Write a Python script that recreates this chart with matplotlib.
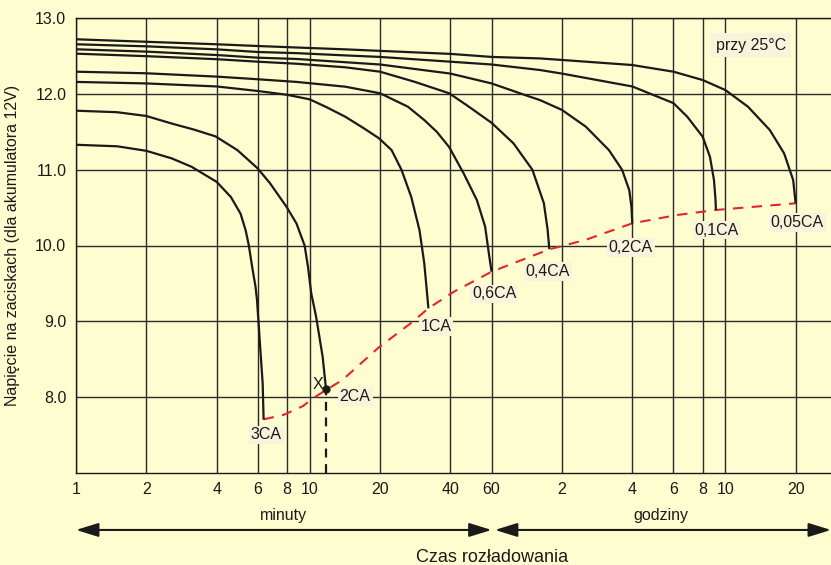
import matplotlib
matplotlib.use('Agg')
import matplotlib.pyplot as plt
from matplotlib.ticker import NullLocator

plt.rcParams['font.family'] = ['Liberation Sans', 'DejaVu Sans']

# czas rozladowania w minutach, napiecie w V
t_3ca = [1, 1.5, 2, 2.57, 3.12, 4.0, 4.6, 5.06, 5.32, 5.49, 5.67, 5.86, 5.95, 6.15, 6.29, 6.35]
v_3ca = [11.33, 11.31, 11.25, 11.15, 11.04, 10.84, 10.64, 10.42, 10.20, 10.0, 9.72, 9.46, 9.28, 8.62, 8.18, 7.70]

t_2ca = [1, 1.5, 2, 2.57, 3.2, 3.96, 4.9, 5.98, 6.77, 7.96, 8.78, 9.51, 9.83, 10.15, 10.65, 11.36, 11.74]
v_2ca = [11.78, 11.76, 11.71, 11.61, 11.53, 11.44, 11.26, 11.02, 10.82, 10.51, 10.29, 10.0, 9.72, 9.37, 9.06, 8.53, 8.105]

t_1ca = [1, 2, 4, 6, 8, 10, 11.74, 14.2, 17, 19.8, 22.4, 24.7, 27.2, 29.5, 30.9, 31.6, 32.2]
v_1ca = [12.16, 12.14, 12.10, 12.04, 11.99, 11.93, 11.83, 11.70, 11.55, 11.415, 11.26, 11.0, 10.64, 10.20, 9.77, 9.45, 9.17]

t_06ca = [1, 2, 4, 6, 8.78, 14.2, 20, 26.3, 30.9, 35, 39.5, 45.6, 51.9, 56.3, 58.7, 60]
v_06ca = [12.295, 12.274, 12.23, 12.195, 12.16, 12.097, 12.01, 11.833, 11.657, 11.50, 11.30, 10.95, 10.60, 10.25, 9.85, 9.654]

t_04ca = [1, 2, 4, 6, 8.78, 14.2, 20, 28, 39.5, 47.1, 60, 74.4, 89.7, 100.4, 104.2, 106]
v_04ca = [12.533, 12.50, 12.46, 12.427, 12.40, 12.353, 12.295, 12.163, 12.01, 11.85, 11.62, 11.35, 11.0, 10.56, 10.21, 9.95]

t_02ca = [1, 2, 4, 6, 8.78, 14.2, 20, 40, 60, 86.5, 96.7, 120, 151.7, 190.6, 217, 233, 238, 240]
v_02ca = [12.591, 12.56, 12.515, 12.48, 12.463, 12.42, 12.39, 12.27, 12.14, 11.97, 11.92, 11.79, 11.57, 11.26, 11.0, 10.73, 10.51, 10.29]

t_01ca = [1, 2, 4, 6, 8.78, 14.2, 20, 40, 60, 96.7, 120, 240, 360, 412.6, 480, 516, 536.7, 545, 547]
v_01ca = [12.657, 12.63, 12.59, 12.555, 12.54, 12.51, 12.49, 12.427, 12.39, 12.317, 12.27, 12.10, 11.88, 11.70, 11.437, 11.17, 10.865, 10.60, 10.47]

t_005ca = [1, 2, 4, 6, 14.2, 20, 40, 60, 96.7, 120, 240, 360, 480, 600, 750, 930, 1071, 1171, 1200]
v_005ca = [12.723, 12.69, 12.657, 12.634, 12.59, 12.57, 12.53, 12.49, 12.47, 12.45, 12.383, 12.295, 12.185, 12.053, 11.833, 11.525, 11.217, 10.865, 10.557]

# koncowe napiecie rozladowania (czerwona linia)
t_end = [6.35, 7.71, 9.36, 10.3, 11.74, 13.8, 19.6, 27.5, 32.2, 41.4, 60, 106, 151, 240, 374, 547, 1200]
v_end = [7.705, 7.762, 7.880, 7.98, 8.092, 8.224, 8.646, 8.990, 9.171, 9.390, 9.654, 9.950, 10.073, 10.293, 10.403, 10.469, 10.557]

curve_t = [t_3ca, t_2ca, t_1ca, t_06ca, t_04ca, t_02ca, t_01ca, t_005ca]
curve_v = [v_3ca, v_2ca, v_1ca, v_06ca, v_04ca, v_02ca, v_01ca, v_005ca]
curve_labels = ['3CA', '2CA', '1CA', '0,6CA', '0,4CA', '0,2CA', '0,1CA', '0,05CA']
label_offsets = [(2, -11), (21, -5.5), (5.5, -13), (2, -16), (-1, -16), (-1, -17), (0.5, -14.5), (1, -14)]

ticks_min = [1, 2, 4, 6, 8, 10, 20, 40, 60]
ticks_hours = [2, 4, 6, 8, 10, 20]

bg = '#fefdd0'
boxc = '#f8f4dc'
ink = '#1a1a1a'

fig = plt.figure(figsize=(8.31, 5.65), dpi=100, facecolor=bg)
ax = fig.add_axes([76 / 831, 92.3 / 565, 755 / 831, 454.4 / 565])
ax.set_facecolor(bg)
ax.set_xscale('log')
ax.set_xlim(1, 1700)
ax.set_ylim(7, 13)

xt = ticks_min + [h * 60 for h in ticks_hours]
xl = [str(m) for m in ticks_min] + [str(h) for h in ticks_hours]
ax.set_xticks(xt)
ax.set_xticklabels(xl)
ax.xaxis.set_minor_locator(NullLocator())
ax.set_yticks([8, 9, 10, 11, 12, 13])
ax.set_yticklabels(['8.0', '9.0', '10.0', '11.0', '12.0', '13.0'])
ax.tick_params(length=0, labelsize=11.5, colors=ink)
ax.tick_params(axis='x', pad=7)
ax.tick_params(axis='y', pad=7)
ax.set_axisbelow(True)
ax.grid(True, color='#2a2a2a', lw=1.0)
ax.spines['right'].set_visible(False)
for s in ['left', 'top', 'bottom']:
    ax.spines[s].set_color(ink)
    ax.spines[s].set_linewidth(1.0)

ax.set_ylabel('Napięcie na zaciskach (dla akumulatora 12V)', fontsize=11.5, color=ink)
ax.yaxis.set_label_coords(-0.074, 0.5)

# czerwona linia koncowa
ax.plot(t_end, v_end, color='#e3262d', lw=1.5, ls=(0, (5, 4)), zorder=3)

for t, v, lab, off in zip(curve_t, curve_v, curve_labels, label_offsets):
    ax.plot(t, v, color=ink, lw=1.6, zorder=4, solid_capstyle='butt',
            solid_joinstyle='round')
    ax.annotate(lab, xy=(t[-1], v[-1]), xytext=off, textcoords='offset points',
                ha='center', va='center', fontsize=11.5, color=ink, zorder=6,
                bbox=dict(boxstyle='square,pad=0.12', fc=boxc, ec='none'))

# punkt X na krzywej 2CA
ax.vlines(t_2ca[-1], 7, v_2ca[-1], colors=ink, lw=1.6, linestyles=(0, (4, 3)), zorder=4)
ax.plot(t_2ca[-1], v_2ca[-1], 'o', color=ink, ms=5, zorder=5)
ax.annotate('X', xy=(t_2ca[-1], v_2ca[-1]), xytext=(-6, 3), textcoords='offset points',
            ha='center', va='center', fontsize=11.5, color=ink, zorder=6)

ax.text(776, 12.647, 'przy 25°C', ha='center', va='center', fontsize=11.5, color=ink,
        bbox=dict(boxstyle='square,pad=0.3', fc=boxc, ec='none'), zorder=6)

# strzalki minuty / godziny
arrow_y = -0.126
ap = dict(arrowstyle='<|-|>,head_length=0.68,head_width=0.21', color=ink,
          lw=1.5, shrinkA=0, shrinkB=0, mutation_scale=20)
ax.annotate('', xy=(1, arrow_y), xytext=(60, arrow_y), xycoords=('data', 'axes fraction'),
            textcoords=('data', 'axes fraction'), arrowprops=ap, annotation_clip=False)
ax.annotate('', xy=(62, arrow_y), xytext=(1.0, arrow_y), xycoords=('data', 'axes fraction'),
            textcoords='axes fraction', arrowprops=ap, annotation_clip=False)
ax.text((1 * 60) ** 0.5, -0.095, 'minuty', transform=ax.get_xaxis_transform(),
        ha='center', va='center', fontsize=11.5, color=ink)
ax.text((60 * 1700) ** 0.5, -0.095, 'godziny', transform=ax.get_xaxis_transform(),
        ha='center', va='center', fontsize=11.5, color=ink)
ax.text(60, -0.186, 'Czas rozładowania', transform=ax.get_xaxis_transform(),
        ha='center', va='center', fontsize=13, color=ink)

fig.savefig('out.png', dpi=100, facecolor=bg)
